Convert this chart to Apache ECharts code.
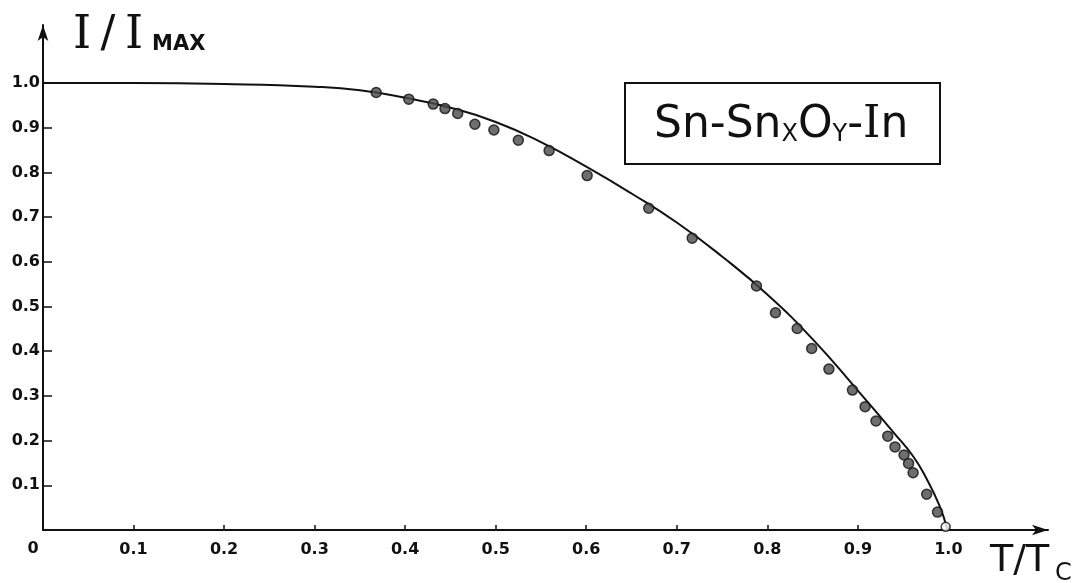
<!DOCTYPE html>
<html>
<head>
<meta charset="utf-8">
<script src="https://cdn.jsdelivr.net/npm/echarts@6/dist/echarts.min.js"></script>
<style>
html,body{margin:0;padding:0;background:#fff;}
#chart{width:1082px;height:583px;}
</style>
</head>
<body>
<div id="chart"></div>
<script>
// 理论曲线 I/Imax 对 T/Tc
var curveT = [0, 0.1, 0.2, 0.3, 0.35, 0.4, 0.45, 0.5, 0.55, 0.6, 0.65, 0.7, 0.75, 0.8, 0.85, 0.9, 0.94, 0.961, 0.975, 0.99, 0.999];
var curveI = [1.0, 1.0, 0.998, 0.992, 0.984, 0.967, 0.945, 0.913, 0.868, 0.813, 0.753, 0.688, 0.612, 0.527, 0.427, 0.312, 0.217, 0.165, 0.118, 0.055, 0.0];
// 实验点
var pointT = [0.368, 0.404, 0.431, 0.444, 0.458, 0.477, 0.498, 0.525, 0.559, 0.601, 0.669, 0.717, 0.788, 0.809, 0.833, 0.849, 0.868, 0.894, 0.908, 0.920, 0.933, 0.941, 0.951, 0.956, 0.961, 0.976, 0.988];
var pointI = [0.979, 0.964, 0.953, 0.943, 0.932, 0.908, 0.895, 0.872, 0.849, 0.793, 0.720, 0.653, 0.546, 0.486, 0.451, 0.406, 0.360, 0.313, 0.276, 0.244, 0.210, 0.186, 0.168, 0.149, 0.128, 0.080, 0.040];
// 空心点
var openT = [0.997];
var openI = [0.007];
// 刻度
var xTicks = [0.1, 0.2, 0.3, 0.4, 0.5, 0.6, 0.7, 0.8, 0.9, 1.0];
var xTickLabels = ['0.1', '0.2', '0.3', '0.4', '0.5', '0.6', '0.7', '0.8', '0.9', '1.0'];
var yTicks = [0.1, 0.2, 0.3, 0.4, 0.5, 0.6, 0.7, 0.8, 0.9, 1.0];
var yTickLabels = ['0.1', '0.2', '0.3', '0.4', '0.5', '0.6', '0.7', '0.8', '0.9', '1.0'];

function pairs(a, b) {
    return a.map(function (v, i) { return [v, b[i]]; });
}
function labelOf(ticks, labels) {
    return function (v) {
        for (var i = 0; i < ticks.length; i++) {
            if (Math.abs(ticks[i] - v) < 1e-6) return labels[i];
        }
        return '';
    };
}

var ink = '#111';
var labelFont = { color: ink, fontSize: 16, fontWeight: 'bold', fontFamily: 'DejaVu Sans' };

var myChart = echarts.init(document.getElementById('chart'));
myChart.setOption({
    backgroundColor: '#fff',
    animation: false,
    grid: { left: 43, right: 34, top: 25, bottom: 53 },
    xAxis: {
        type: 'value', min: 0, max: 1.11,
        splitLine: { show: false },
        axisLine: { show: true, onZero: false, symbol: ['none', 'arrow'], symbolSize: [8, 16], lineStyle: { color: ink, width: 2 } },
        axisTick: { show: true, inside: true, length: 5, customValues: xTicks, lineStyle: { color: ink, width: 1.5 } },
        axisLabel: Object.assign({ customValues: xTicks, margin: 12, formatter: labelOf(xTicks, xTickLabels) }, labelFont)
    },
    yAxis: {
        type: 'value', min: 0, max: 1.13,
        splitLine: { show: false },
        axisLine: { show: true, onZero: false, symbol: ['none', 'arrow'], symbolSize: [8, 16], lineStyle: { color: ink, width: 2 } },
        axisTick: { show: true, inside: true, length: 9, customValues: yTicks, lineStyle: { color: ink, width: 1.5 } },
        axisLabel: Object.assign({ customValues: yTicks, margin: 3, formatter: labelOf(yTicks, yTickLabels) }, labelFont)
    },
    series: [
        {
            type: 'line', data: pairs(curveT, curveI), showSymbol: false, smooth: 0.5,
            lineStyle: { color: ink, width: 2 }, z: 2
        },
        {
            type: 'scatter', data: pairs(pointT, pointI), symbolSize: 10,
            itemStyle: { color: '#4a4a4a', borderColor: ink, borderWidth: 1.5 }, z: 3
        },
        {
            type: 'scatter', data: pairs(openT, openI), symbolSize: 9,
            itemStyle: { color: '#fff', borderColor: ink, borderWidth: 1.5 }, z: 3
        }
    ],
    graphic: [
        { type: 'text', x: 33, y: 549, style: { text: '0', align: 'center', verticalAlign: 'middle', fill: ink, font: 'bold 16px "DejaVu Sans"' } },
        { type: 'text', x: 82, y: 36, style: { text: 'I', align: 'center', verticalAlign: 'middle', fill: ink, font: '46px "DejaVu Serif"' } },
        { type: 'text', x: 108, y: 36, style: { text: '/', align: 'center', verticalAlign: 'middle', fill: ink, font: '44px "DejaVu Sans"' } },
        { type: 'text', x: 134, y: 36, style: { text: 'I', align: 'center', verticalAlign: 'middle', fill: ink, font: '46px "DejaVu Serif"' } },
        { type: 'text', x: 152, y: 45, style: { text: 'MAX', verticalAlign: 'middle', fill: ink, font: 'bold 21px "DejaVu Sans"' } },
        { type: 'text', x: 990, y: 561, style: { text: 'T/T', verticalAlign: 'middle', fill: ink, font: '38px "DejaVu Sans"' } },
        { type: 'text', x: 1055, y: 574, style: { text: 'C', verticalAlign: 'middle', fill: ink, font: '24px "DejaVu Sans"' } },
        {
            type: 'rect', shape: { x: 625, y: 83, width: 315, height: 81 },
            style: { fill: 'none', stroke: ink, lineWidth: 2 }
        },
        {
            type: 'text', x: 654, y: 126,
            style: {
                text: '{a|Sn-Sn}{s|X}{a|O}{s|Y}{a|-}{i|I}{a|n}', verticalAlign: 'middle', fill: ink,
                rich: {
                    a: { fontFamily: 'DejaVu Sans', fontSize: 44 },
                    s: { fontFamily: 'DejaVu Sans', fontSize: 24, padding: [17, 0, 0, 0] },
                    i: { fontFamily: 'DejaVu Serif', fontSize: 44 }
                }
            }
        }
    ]
});
</script>
</body>
</html>
